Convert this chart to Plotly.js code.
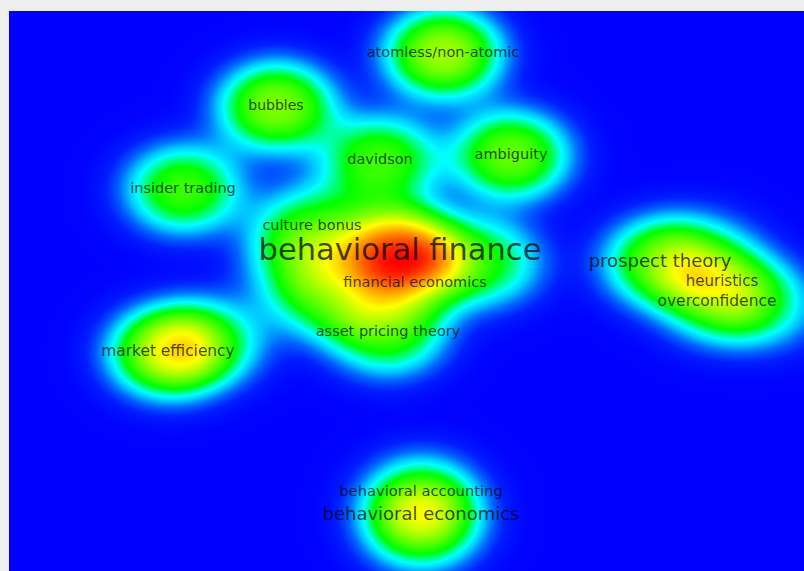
<!DOCTYPE html>
<html>
<head>
<meta charset="utf-8">
<script src="https://cdn.plot.ly/plotly-3.0.1.min.js"></script>
<style>
  html, body { margin: 0; padding: 0; background: #eeeeee; }
  #map { width: 804px; height: 571px; }
</style>
</head>
<body>
<div id="map"></div>
<script>
// Keyword co-occurrence map: item labels, map coordinates and occurrence weights.
// Items with an empty label are present in the map but their labels are hidden.
const keywords = [
  "atomless/non-atomic", "bubbles", "davidson", "ambiguity", "insider trading",
  "culture bonus", "behavioral finance", "financial economics", "", "", "asset pricing theory", "",
  "prospect theory", "heuristics", "overconfidence", "", "",
  "market efficiency", "",
  "behavioral accounting", "behavioral economics", ""
];
const mapX = [443, 276, 380, 511, 183, 312, 400, 415, 330, 298, 388, 485, 660, 722, 717, 765, 705, 168, 212, 421, 421, 420];
const mapY = [ 53, 106, 160, 155, 189, 226, 252, 283, 297, 262, 332, 262, 262, 282, 302, 305, 250, 352, 340, 492, 515, 535];
const weights = [0.5, 0.46, 0.38, 0.43, 0.38, 0.28, 0.78, 0.15, 0.3, 0.2, 0.34, 0.3, 0.38, 0.17, 0.22, 0.2, 0.13, 0.52, 0.22, 0.18, 0.33, 0.15];

// Label font sizes (px), one per item
const labelSize = [14.5, 14, 14.5, 14.5, 14.5, 14.5, 30.5, 14.5, 12, 12, 14.5, 12, 18, 15, 15.5, 12, 12, 15.4, 12, 14.7, 18, 12];

// Kernel widths and shape exponent of the density estimate
const SX = 41, SY = 31.5, P = 1.2;

const gx = [], gy = [];
for (let x = 7; x <= 808; x += 4) gx.push(x);
for (let y = 9; y <= 575; y += 4) gy.push(y);

let zmax = 0;
const z = gy.map(y => gx.map(x => {
  let s = 0;
  for (let i = 0; i < mapX.length; i++) {
    const dx = x - mapX[i], dy = y - mapY[i];
    const q = (dx * dx) / (2 * SX * SX) + (dy * dy) / (2 * SY * SY);
    s += weights[i] * Math.exp(-Math.pow(q, P));
  }
  if (s > zmax) zmax = s;
  return s;
}));
const zn = z.map(r => r.map(v => v / zmax));

const density = {
  type: "heatmap",
  x: gx, y: gy, z: zn,
  zmin: 0, zmax: 1,
  zsmooth: "best",
  showscale: false,
  hoverinfo: "skip",
  colorscale: [
    [0.00, "rgb(0,0,255)"],
    [0.05, "rgb(0,30,255)"],
    [0.11, "rgb(0,105,255)"],
    [0.17, "rgb(0,200,255)"],
    [0.22, "rgb(0,255,255)"],
    [0.27, "rgb(0,255,140)"],
    [0.33, "rgb(0,255,0)"],
    [0.64, "rgb(255,255,0)"],
    [0.82, "rgb(255,128,0)"],
    [1.00, "rgb(255,0,0)"]
  ]
};

const shown = keywords.map((k, i) => i).filter(i => keywords[i] !== "");
const labels = {
  type: "scatter",
  mode: "text",
  x: shown.map(i => mapX[i]),
  y: shown.map(i => mapY[i]),
  text: shown.map(i => keywords[i]),
  textposition: "middle center",
  textfont: {
    family: "DejaVu Sans, sans-serif",
    size: shown.map(i => labelSize[i]),
    color: "rgba(0,0,0,0.72)"
  },
  hoverinfo: "skip"
};

const layout = {
  width: 804, height: 571,
  margin: { l: 9, r: 0, t: 11, b: 0 },
  paper_bgcolor: "#eeeeee",
  plot_bgcolor: "rgb(0,0,255)",
  showlegend: false,
  xaxis: { range: [9, 804], visible: false, fixedrange: true },
  yaxis: { range: [571, 11], visible: false, fixedrange: true }
};

Plotly.newPlot("map", [density, labels], layout, { displayModeBar: false, staticPlot: true });
</script>
</body>
</html>
